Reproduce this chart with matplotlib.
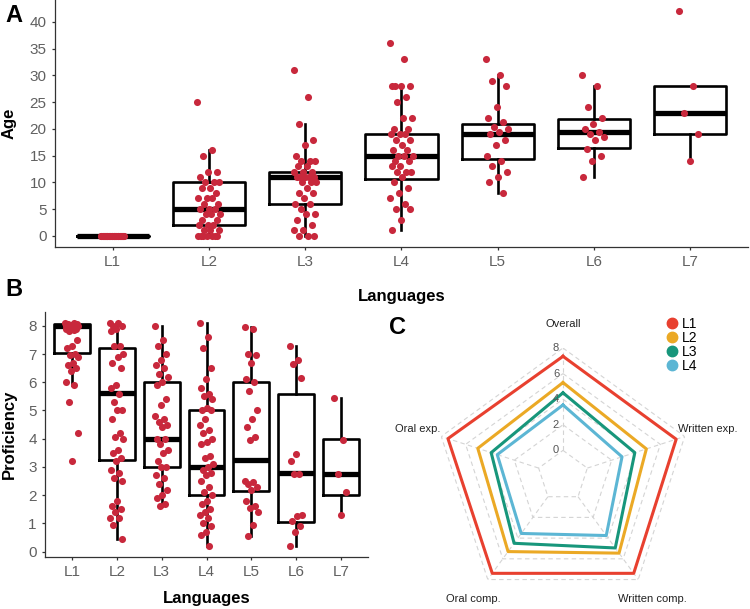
import numpy as np
import matplotlib
matplotlib.use("Agg")
import matplotlib.pyplot as plt
from matplotlib.lines import Line2D

plt.rcParams["font.family"] = ["Liberation Sans", "DejaVu Sans"]

languages = ["L1", "L2", "L3", "L4", "L5", "L6", "L7"]

# ---- panel A: age of acquisition (box stats + individual points)
age_q1 = [0, 2, 6, 10.7, 14.3, 16.5, 19]
age_med = [0, 5, 11, 15, 19, 19.5, 23]
age_q3 = [0, 10, 12, 19, 21, 21.8, 28]
age_lo = [0, 0, 0, 1, 8, 11, 14]
age_hi = [0, 16, 21, 28, 30, 28, 28]

age_l1 = [0] * 45
age_l2 = [25, 16, 15, 12, 12, 11, 10, 10, 10, 9, 9, 8, 7, 7, 7, 6, 6, 5, 5, 5,
          4, 4, 4, 3, 3, 2, 2, 2, 1, 1, 1, 0, 0, 0, 0, 0, 0, 0]
age_l3 = [31, 26, 21, 18, 17, 15, 14, 14, 14, 13, 13, 12, 12, 12, 11, 11, 11, 11,
          11, 10, 10, 10, 9, 8, 8, 7, 6, 6, 5, 4, 4, 3, 2, 1, 1, 0, 0, 0]
age_l4 = [36, 33, 28, 28, 28, 28, 26, 25, 22, 22, 20, 20, 19, 19, 19, 18, 18, 17,
          16, 16, 15, 15, 15, 14, 14, 13, 13, 12, 12, 12, 11, 10, 9, 8, 7, 6, 5, 5, 3, 1]
age_l5 = [33, 30, 29, 28, 24, 22, 21.3, 20.4, 20, 19.5, 19, 18, 17, 15, 14, 13,
          12, 11, 10, 8]
age_l6 = [30, 28, 24, 22, 21, 20, 19.5, 19, 18.5, 18, 16.2, 15, 14, 11]
age_l7 = [42, 28, 23, 19, 14]
age_points = [age_l1, age_l2, age_l3, age_l4, age_l5, age_l6, age_l7]

# ---- panel B: proficiency
prof_q1 = [7.05, 3.25, 3.0, 2.0, 2.15, 1.05, 2.0]
prof_med = [8.0, 5.63, 4.0, 3.0, 3.25, 2.78, 2.75]
prof_q3 = [8.05, 7.2, 6.0, 5.0, 6.0, 5.57, 4.0]
prof_lo = [5.9, 0.45, 1.6, 0.2, 0.55, 0.2, 1.3]
prof_hi = [8.1, 8.1, 8.0, 8.1, 7.95, 7.3, 5.45]

prof_l1 = [8.1, 8.1, 8.05, 8.05, 8.0, 8.0, 8.0, 8.0, 8.0, 7.95, 7.95, 7.9, 7.9,
           7.9, 7.85, 7.8, 7.5, 7.3, 7.2, 7.0, 6.95, 6.9, 6.7, 6.6, 6.5, 6.4,
           6.0, 5.9, 5.3, 4.2, 3.2]
prof_l2 = [8.1, 8.1, 8.0, 8.0, 7.9, 7.8, 7.3, 7.3, 7.0, 6.9, 6.7, 6.5, 5.9, 5.8,
           5.6, 5.3, 5.0, 5.0, 4.7, 4.2, 4.05, 4.0, 3.6, 3.5, 3.3, 3.2, 2.9, 2.8,
           2.6, 2.5, 1.8, 1.6, 1.5, 1.4, 1.2, 1.2, 0.95, 0.45]
prof_l3 = [8.0, 7.5, 7.3, 7.0, 6.8, 6.6, 6.5, 6.3, 6.2, 6.0, 5.9, 5.4, 5.2, 4.8,
           4.7, 4.6, 4.5, 4.4, 4.0, 4.0, 3.8, 3.6, 3.5, 3.2, 3.0, 3.0, 2.7, 2.6,
           2.4, 2.2, 2.0, 1.9, 1.7, 1.6]
prof_l4 = [8.1, 7.6, 7.2, 6.5, 6.1, 5.8, 5.6, 5.5, 5.4, 5.1, 5.0, 5.0, 4.7, 4.5,
           4.3, 4.2, 4.0, 3.9, 3.8, 3.4, 3.3, 3.1, 3.0, 2.9, 2.8, 2.7, 2.5, 2.3,
           2.1, 2.0, 1.8, 1.7, 1.5, 1.4, 1.3, 1.2, 1.0, 0.9, 0.7, 0.6, 0.2]
prof_l5 = [7.95, 7.9, 7.0, 6.95, 6.7, 6.1, 6.0, 5.7, 5.0, 4.7, 4.4, 4.05, 3.95,
           2.5, 2.45, 2.4, 2.3, 2.2, 1.8, 1.6, 1.55, 1.4, 0.95, 0.55]
prof_l6 = [7.3, 6.8, 6.65, 6.15, 3.45, 3.2, 2.75, 2.75, 1.3, 1.25, 1.1, 0.9, 0.7, 0.2]
prof_l7 = [5.45, 3.95, 2.75, 2.1, 1.3]
prof_points = [prof_l1, prof_l2, prof_l3, prof_l4, prof_l5, prof_l6, prof_l7]

# ---- panel C: radar of proficiency by skill
skills = ["Overall", "Written exp.", "Written comp.", "Oral comp.", "Oral exp."]
radar_l1 = [7.35, 7.3, 7.4, 7.4, 7.45]
radar_l2 = [5.3, 4.85, 5.45, 5.3, 5.0]
radar_l3 = [4.5, 3.9, 4.95, 4.5, 3.9]
radar_l4 = [3.55, 2.85, 3.75, 3.55, 3.4]
radar_series = [radar_l1, radar_l2, radar_l3, radar_l4]
radar_names = ["L1", "L2", "L3", "L4"]
radar_colors = ["#E8402F", "#EBA925", "#17967B", "#5CB6D4"]
radar_ticks = [0, 2, 4, 6, 8]

point_red = "#C8283C"


def jitter(n, width):
    # deterministic spread of points around the category centre
    return np.array([((i * 0.618034) % 1.0 - 0.5) * 2 * width for i in range(n)])


def draw_boxes(ax, q1, med, q3, lo, hi, width):
    stats = [dict(q1=a, med=b, q3=c, whislo=d, whishi=e, label=lab)
             for a, b, c, d, e, lab in zip(q1, med, q3, lo, hi, languages)]
    ax.bxp(stats, positions=range(1, len(stats) + 1), widths=width,
           showfliers=False, showcaps=False,
           boxprops=dict(color="black", lw=1.9),
           whiskerprops=dict(color="black", lw=1.9),
           medianprops=dict(color="black", lw=3.8, solid_capstyle="butt"))


def draw_points(ax, groups, width):
    for i, vals in enumerate(groups):
        xs = i + 1 + jitter(len(vals), width)
        ax.scatter(xs, vals, s=26, color=point_red, linewidths=0, zorder=3)


def style(ax):
    for s in ["top", "right"]:
        ax.spines[s].set_visible(False)
    for s in ["left", "bottom"]:
        ax.spines[s].set_color("#333333")
        ax.spines[s].set_linewidth(0.9)
    ax.tick_params(length=2.5, width=0.9, color="#333333",
                   labelcolor="#606060", labelsize=11)


fig = plt.figure(figsize=(7.5, 6.09), dpi=100)

# panel A
ax_a = fig.add_axes([0.0733, 0.5944, 0.924, 0.4056])
draw_boxes(ax_a, age_q1, age_med, age_q3, age_lo, age_hi, 0.75)
draw_points(ax_a, age_points, 0.12)
ax_a.set_xlim(0.4, 7.6)
ax_a.set_ylim(-2.1, 44.1)
ax_a.set_yticks(range(0, 41, 5))
style(ax_a)
ax_a.set_ylabel("Age", fontsize=12, fontweight="bold", va="center")
ax_a.set_xlabel("Languages", fontsize=12, fontweight="bold", va="center")
ax_a.yaxis.set_label_coords(-0.066, 0.5)
ax_a.xaxis.set_label_coords(0.5, -0.2)

# panel B
ax_b = fig.add_axes([0.06, 0.0854, 0.4307, 0.4023])
draw_boxes(ax_b, prof_q1, prof_med, prof_q3, prof_lo, prof_hi, 0.8)
draw_points(ax_b, prof_points, 0.15)
ax_b.set_xlim(0.4, 7.6)
ax_b.set_ylim(-0.19, 8.49)
ax_b.set_yticks(range(0, 9))
style(ax_b)
ax_b.set_ylabel("Proficiency", fontsize=12, fontweight="bold", va="center")
ax_b.set_xlabel("Languages", fontsize=12, fontweight="bold", va="center")
ax_b.yaxis.set_label_coords(-0.111, 0.5)
ax_b.xaxis.set_label_coords(0.5, -0.171)

# panel C: radar
ax_c = fig.add_axes([0.58, 0.0082, 0.3413, 0.4204], projection="polar")
ax_c.set_theta_offset(np.pi / 2)
ax_c.set_theta_direction(-1)
ax_c.set_ylim(-2, 8)
ax_c.set_axis_off()

angles = np.linspace(0, 2 * np.pi, len(skills), endpoint=False)
closed = np.append(angles, angles[0])
grid_style = dict(color="#d4d4d4", lw=0.8, ls=(0, (4, 3)), zorder=1)
for level in radar_ticks:
    ax_c.plot(closed, [level] * len(closed), **grid_style)
for a in angles:
    ax_c.plot([a, a], [radar_ticks[0], radar_ticks[-1]], **grid_style)

for vals, col in zip(radar_series, radar_colors):
    ax_c.plot(closed, vals + vals[:1], color=col, lw=2.2, zorder=3)

for level in radar_ticks:
    ax_c.annotate(str(level), xy=(0, level), xytext=(-5, 0),
                  textcoords="offset points", ha="center", va="center",
                  fontsize=8, color="#555555", zorder=4)

for a, name in zip(angles, skills):
    ax_c.text(a, 9.9, name, ha="center", va="center", fontsize=8,
              color="#222222", clip_on=False)

handles = [Line2D([], [], ls="", marker="o", ms=7.5, color=c) for c in radar_colors]
ax_c.legend(handles, radar_names, loc="upper left",
            bbox_to_anchor=(667 / 750, 1 - 317 / 609),
            bbox_transform=fig.transFigure, frameon=False, fontsize=10,
            handlelength=0.7, handletextpad=0.35, labelspacing=0.0,
            borderpad=0, borderaxespad=0)

# panel letters
fig.text(0.007, 0.974, "A", fontsize=17, fontweight="bold", va="center")
fig.text(0.007, 1 - 290 / 609, "B", fontsize=17, fontweight="bold", va="center")
fig.text(0.519, 1 - 327 / 609, "C", fontsize=17, fontweight="bold", va="center")

fig.savefig("out.png", dpi=100)
